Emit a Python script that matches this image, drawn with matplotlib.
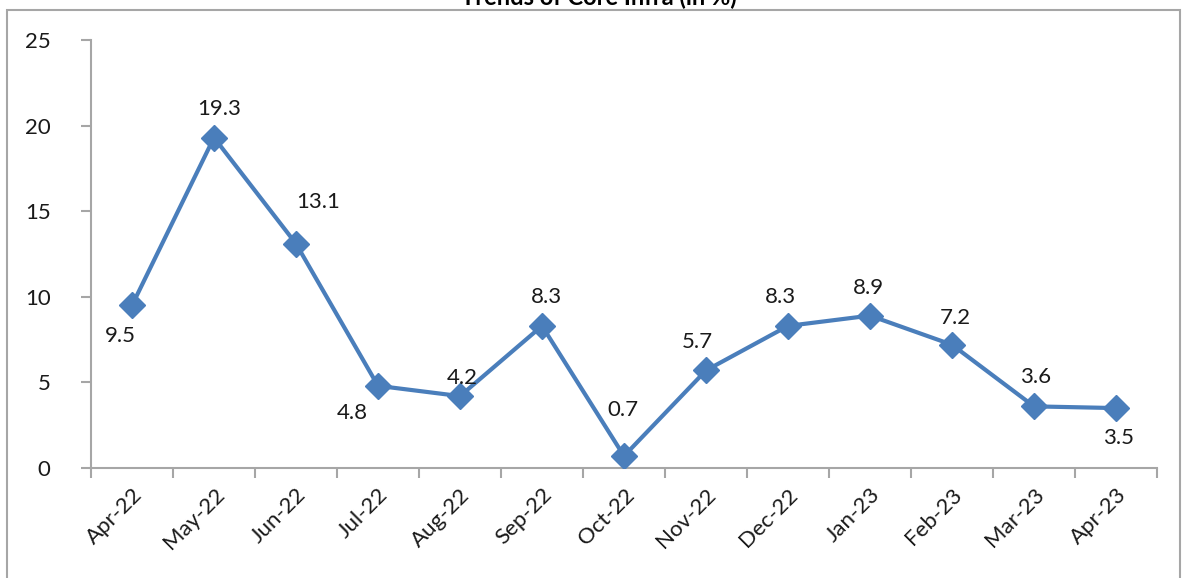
import matplotlib
matplotlib.use("Agg")
import matplotlib.pyplot as plt
import numpy as np
from matplotlib.patches import Rectangle

# data
months = ['Apr-22', 'May-22', 'Jun-22', 'Jul-22', 'Aug-22', 'Sep-22', 'Oct-22',
          'Nov-22', 'Dec-22', 'Jan-23', 'Feb-23', 'Mar-23', 'Apr-23']
growth = [9.5, 19.3, 13.1, 4.8, 4.2, 8.3, 0.7, 5.7, 8.3, 8.9, 7.2, 3.6, 3.5]
y_ticks = [0, 5, 10, 15, 20, 25]

# label offsets in pixels (dx, dy up)
label_off = [(-12, -31), (5, 29), (22, 42), (-26, -27), (2, 18), (4, 29), (-1, 46),
             (-9, 28), (-8, 29), (-2, 28), (3, 27), (2, 29), (3, -30)]

plt.rcParams['font.family'] = ['Lato', 'DejaVu Sans']
LINE = '#4A7EBB'
GRAY = '#A6A6A6'
TXT = '#1A1A1A'

fig = plt.figure(figsize=(11.85, 5.78), dpi=100)
ax = fig.add_axes([91 / 1185, 1 - 468 / 578, 1066 / 1185, 428 / 578])

x = np.arange(len(months))
ax.plot(x, growth, color=LINE, lw=3, marker='D', markersize=13,
        markerfacecolor=LINE, markeredgecolor=LINE, zorder=3)

px = 72 / 100
for xi, v, (dx, dy) in zip(x, growth, label_off):
    ax.annotate(f'{v}', (xi, v), xytext=(dx * px, dy * px), textcoords='offset points',
                ha='center', va='center', fontsize=16, color=TXT)

ax.set_xlim(-0.5, len(months) - 0.5)
ax.set_ylim(0, 25)
ax.set_yticks(y_ticks)
ax.set_xticks(x)
ax.set_xticklabels(months, rotation=45, ha='right', rotation_mode='anchor')
ax.set_xticks(np.arange(len(months) + 1) - 0.5, minor=True)
ax.tick_params(axis='x', which='major', length=0, labelsize=16, pad=12, colors=TXT)
ax.tick_params(axis='x', which='minor', length=7, color=GRAY, width=1.5)
ax.tick_params(axis='y', length=7, width=1.5, labelsize=16, pad=22, colors=TXT)
ax.tick_params(axis='y', color=GRAY)

for s in ['top', 'right']:
    ax.spines[s].set_visible(False)
for s in ['left', 'bottom']:
    ax.spines[s].set_color(GRAY)
    ax.spines[s].set_linewidth(1.5)

# chart frame
fig.patches.append(Rectangle((7 / 1185, -0.05), 1173 / 1185, 1.05 - 10 / 578,
                             transform=fig.transFigure, fill=False,
                             edgecolor=GRAY, lw=1.5))
fig.text(0.505, 1 - 5 / 578, 'Trends of Core Infra (in %)', ha='center',
         va='baseline', fontsize=17, fontweight='bold')

fig.savefig('out.png', dpi=100)
